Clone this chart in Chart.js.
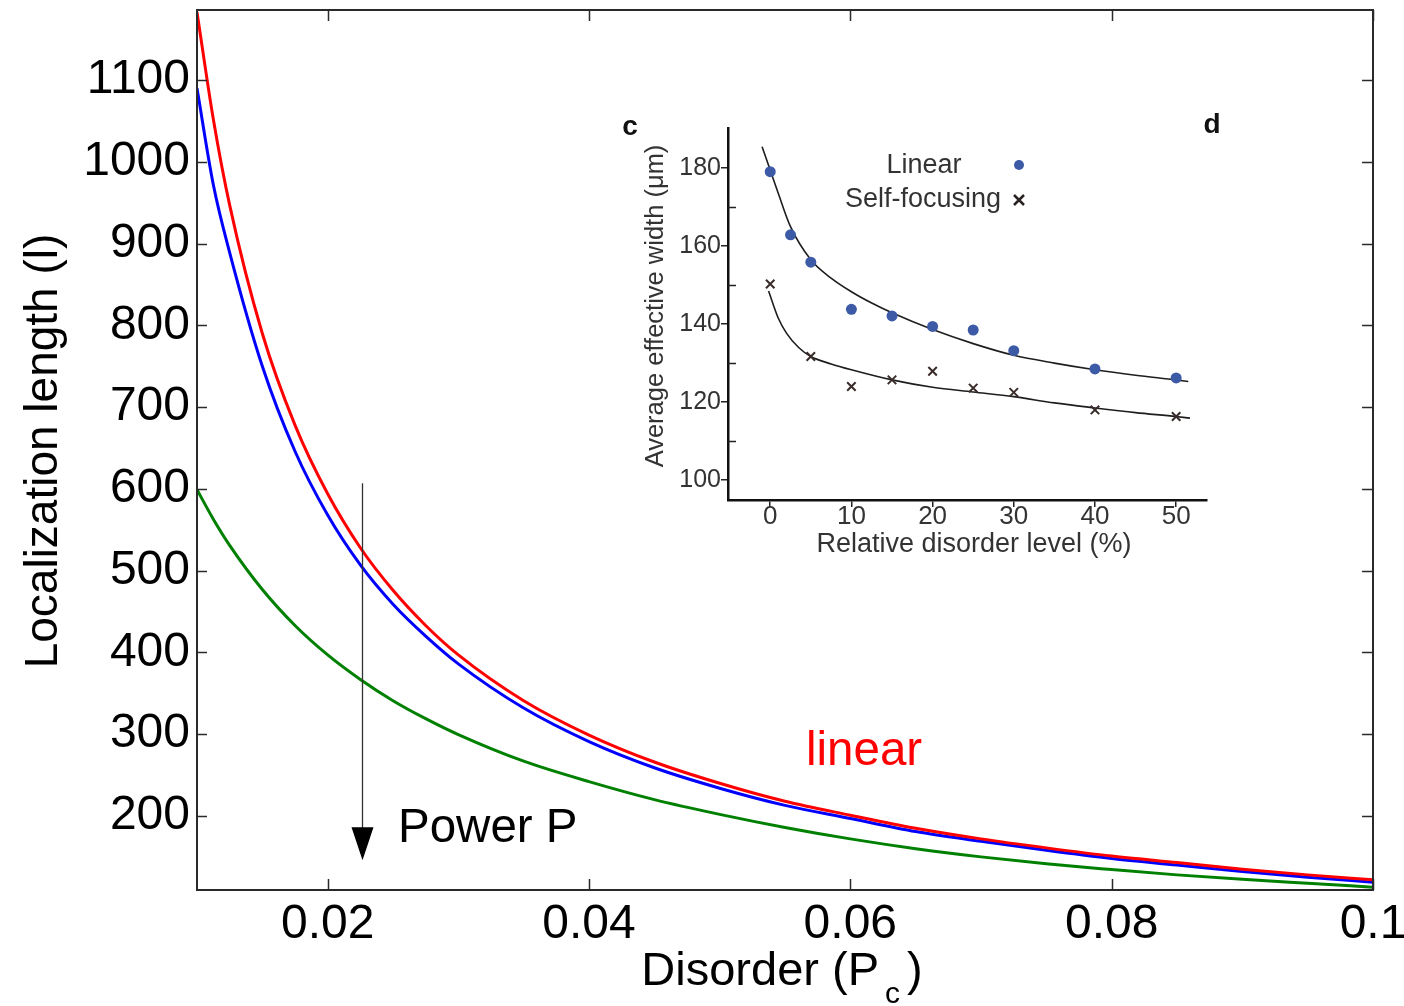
<!DOCTYPE html>
<html>
<head>
<meta charset="utf-8">
<script src="https://cdn.jsdelivr.net/npm/chart.js@4.4.1/dist/chart.umd.min.js"></script>
<style>
  html, body { margin: 0; padding: 0; background: #ffffff; }
  #wrap { position: relative; width: 1404px; height: 1006px; overflow: hidden; }
  #main { position: absolute; left: 0; top: 0; }
  #inset { position: absolute; left: 600px; top: 100px; filter: blur(0.6px); }
</style>
</head>
<body>
<div id="wrap">
  <canvas id="main" width="1404" height="1006"></canvas>
  <canvas id="inset" width="640" height="470"></canvas>
</div>
<script>
// ---- Main plot: localization length versus disorder ----
const disorder = [0.010, 0.01125, 0.0125, 0.015, 0.0175, 0.020, 0.0225, 0.025, 0.0275, 0.030,
                  0.035, 0.040, 0.045, 0.050, 0.055, 0.060, 0.065, 0.070, 0.075, 0.080,
                  0.085, 0.090, 0.095, 0.100];
const lengthLinear = [1183, 1052, 947, 790, 678, 594, 528, 476, 433, 397,
                      341, 299, 266, 240, 218, 201, 185, 172, 161, 151,
                      143, 135, 128, 122];
const lengthMidPower = [1090, 972, 889, 750, 646, 568, 507, 459, 420, 386,
                        332, 291, 259, 234, 213, 197, 181, 169, 158, 148,
                        140, 132, 125, 119];
const lengthHighPower = [599, 563, 531, 477, 433, 397, 367, 341, 319, 299.5,
                         267, 242, 220, 202, 186, 172, 160, 150, 141.5, 134.5,
                         128, 122.5, 117.7, 113];
const xTicks = [0.02, 0.04, 0.06, 0.08, 0.1];
const xTickLabels = ['0.02', '0.04', '0.06', '0.08', '0.1'];
const yTicks = [200, 300, 400, 500, 600, 700, 800, 900, 1000, 1100];
const yTickLabels = ['200', '300', '400', '500', '600', '700', '800', '900', '1000', '1100'];
const xRange = [0.01, 0.1];
const yRange = [109.5, 1185.6];

// arrow marking increasing power
const arrowX = 0.02264;
const arrowFrom = 607;
const arrowTo = 146;

// ---- Inset: average effective width versus relative disorder ----
const insetLevelLinear = [0, 2.5, 5, 10, 15, 20, 25, 30, 40, 50];
const insetWidthLinear = [179.1, 162.9, 155.9, 143.8, 142.1, 139.4, 138.5, 133.2, 128.5, 126.2];
const insetLevelSelf = [0, 5, 10, 15, 20, 25, 30, 40, 50];
const insetWidthSelf = [150.3, 131.7, 124.0, 125.7, 127.9, 123.6, 122.5, 118.0, 116.3];
const fitLevelLinear = [-1, 0, 1, 2.5, 5, 7.5, 10, 12.5, 15, 20, 25, 30, 35, 40, 45, 50, 51.5];
const fitWidthLinear = [185.5, 179.5, 173.5, 165.0, 156.5, 151.8, 148.3, 145.4, 142.9, 138.6, 135.0, 132.0, 130.0, 128.3, 126.9, 125.7, 125.3];
const fitLevelSelf = [-0.2, 1, 2, 3.5, 5, 7.5, 10, 15, 20, 25, 30, 35, 40, 45, 50, 51.7];
const fitWidthSelf = [148.5, 141.5, 137.7, 134.0, 131.7, 129.8, 128.3, 125.7, 123.8, 122.6, 121.4, 119.8, 118.5, 117.3, 116.3, 115.9];
const insetXTicks = [0, 10, 20, 30, 40, 50];
const insetYTicks = [100, 120, 140, 160, 180];
const insetYMinorTicks = [110, 130, 150, 170];
const insetXRange = [-5.2, 53.8];
const insetYRange = [94.9, 190.3];

const FONT = "'Liberation Sans', Arial, Helvetica, sans-serif";

function pairs(xs, ys) { return xs.map((x, i) => ({ x: x, y: ys[i] })); }

// frame, inward ticks, titles and annotations of the main plot
const mainDecor = {
  id: 'mainDecor',
  afterDraw(chart) {
    const ctx = chart.ctx;
    const a = chart.chartArea;
    const xs = chart.scales.x, ys = chart.scales.y;
    ctx.save();
    ctx.strokeStyle = '#2a2a2a';
    ctx.lineWidth = 2;
    ctx.strokeRect(a.left, a.top, a.right - a.left, a.bottom - a.top);
    ctx.lineWidth = 1.5;
    ctx.beginPath();
    xTicks.forEach(v => {
      const px = Math.round(xs.getPixelForValue(v)) + 0.5;
      ctx.moveTo(px, a.bottom); ctx.lineTo(px, a.bottom - 11);
      ctx.moveTo(px, a.top); ctx.lineTo(px, a.top + 11);
    });
    yTicks.forEach(v => {
      const py = Math.round(ys.getPixelForValue(v)) + 0.5;
      ctx.moveTo(a.left, py); ctx.lineTo(a.left + 10, py);
      ctx.moveTo(a.right, py); ctx.lineTo(a.right - 11, py);
    });
    ctx.stroke();

    // arrow
    const ax = Math.round(xs.getPixelForValue(arrowX)) + 0.5;
    const ay0 = ys.getPixelForValue(arrowFrom);
    const ay1 = ys.getPixelForValue(arrowTo);
    ctx.strokeStyle = '#333333';
    ctx.lineWidth = 1.3;
    ctx.beginPath();
    ctx.moveTo(ax, ay0); ctx.lineTo(ax, ay1 - 30);
    ctx.stroke();
    ctx.fillStyle = '#000000';
    ctx.beginPath();
    ctx.moveTo(ax - 11, ay1 - 33);
    ctx.lineTo(ax + 11, ay1 - 33);
    ctx.lineTo(ax, ay1);
    ctx.closePath();
    ctx.fill();

    // annotations
    ctx.font = '47.5px ' + FONT;
    ctx.textBaseline = 'alphabetic';
    ctx.textAlign = 'left';
    ctx.fillStyle = '#000000';
    ctx.fillText('Power P', 398, 842);
    ctx.fillStyle = '#ff0000';
    ctx.fillText('linear', 806, 765);

    // x title with subscript
    ctx.fillStyle = '#000000';
    const t1 = 'Disorder (P', t2 = 'c', t3 = ')';
    ctx.font = '47px ' + FONT;
    const w1 = ctx.measureText(t1).width, w3 = ctx.measureText(t3).width;
    ctx.font = '30px ' + FONT;
    const w2 = ctx.measureText(t2).width;
    const total = w1 + 6 + w2 + 7 + w3;
    let x0 = (a.left + a.right) / 2 - total / 2 - 3;
    ctx.font = '47px ' + FONT;
    ctx.fillText(t1, x0, 985);
    ctx.font = '30px ' + FONT;
    ctx.fillText(t2, x0 + w1 + 6, 1003);
    ctx.font = '47px ' + FONT;
    ctx.fillText(t3, x0 + w1 + 6 + w2 + 7, 985);

    // y title
    ctx.font = '46px ' + FONT;
    ctx.save();
    ctx.translate(57, (a.top + a.bottom) / 2 + 1);
    ctx.rotate(-Math.PI / 2);
    ctx.textAlign = 'center';
    ctx.fillText('Localization length (l)', 0, 0);
    ctx.restore();
    ctx.restore();
  }
};

new Chart(document.getElementById('main'), {
  type: 'line',
  data: {
    datasets: [
      { data: pairs(disorder, lengthLinear), borderColor: '#ff0000' },
      { data: pairs(disorder, lengthMidPower), borderColor: '#0000ff' },
      { data: pairs(disorder, lengthHighPower), borderColor: '#008000' }
    ].map(d => Object.assign(d, {
      borderWidth: 3, pointRadius: 0, fill: false, cubicInterpolationMode: 'monotone'
    }))
  },
  options: {
    responsive: false,
    animation: false,
    devicePixelRatio: 1,
    layout: { padding: { left: 0, top: 10, right: 31, bottom: 0 } },
    plugins: { legend: { display: false }, tooltip: { enabled: false } },
    scales: {
      x: {
        type: 'linear', min: xRange[0], max: xRange[1],
        grid: { display: false, drawTicks: false }, border: { display: false },
        afterBuildTicks: s => { s.ticks = xTicks.map(v => ({ value: v })); },
        afterFit: s => { s.height = 116; s.paddingLeft = 0; s.paddingRight = 0; },
        ticks: {
          autoSkip: false, maxRotation: 0, padding: 6, color: '#000000',
          font: { family: FONT, size: 48 },
          callback: (v, i) => xTickLabels[i]
        }
      },
      y: {
        type: 'linear', min: yRange[0], max: yRange[1],
        grid: { display: false, drawTicks: false }, border: { display: false },
        afterBuildTicks: s => { s.ticks = yTicks.map(v => ({ value: v })); },
        afterFit: s => { s.width = 197; s.paddingTop = 0; s.paddingBottom = 0; },
        ticks: {
          autoSkip: false, padding: 7, color: '#000000',
          font: { family: FONT, size: 48 },
          callback: (v, i) => yTickLabels[i]
        }
      }
    }
  },
  plugins: [mainDecor]
});

// inset labels, legend and minor ticks
const insetDecor = {
  id: 'insetDecor',
  afterDraw(chart) {
    const ctx = chart.ctx;
    const a = chart.chartArea;
    const ys = chart.scales.y;
    ctx.save();
    ctx.strokeStyle = '#222222';
    ctx.lineWidth = 1.5;
    ctx.beginPath();
    insetYMinorTicks.forEach(v => {
      const py = Math.round(ys.getPixelForValue(v)) + 0.5;
      ctx.moveTo(a.left, py); ctx.lineTo(a.left + 8, py);
    });
    ctx.stroke();

    ctx.fillStyle = '#333333';
    ctx.font = '27px ' + FONT;
    ctx.textAlign = 'center';
    ctx.textBaseline = 'middle';
    ctx.fillText('Relative disorder level (%)', 374, 445);
    ctx.save();
    ctx.translate(56, 206);
    ctx.rotate(-Math.PI / 2);
    ctx.font = '25.5px ' + FONT;
    ctx.fillText('Average effective width (\u03bcm)', 0, 0);
    ctx.restore();

    ctx.font = '27px ' + FONT;
    ctx.fillText('Linear', 324, 66);
    ctx.fillText('Self-focusing', 323, 100);
    ctx.fillStyle = '#3c5aa6';
    ctx.beginPath();
    ctx.arc(419, 65, 5, 0, Math.PI * 2);
    ctx.fill();
    ctx.strokeStyle = '#2a2222';
    ctx.lineWidth = 2.5;
    ctx.beginPath();
    ctx.moveTo(414, 95); ctx.lineTo(424, 105);
    ctx.moveTo(424, 95); ctx.lineTo(414, 105);
    ctx.stroke();

    ctx.fillStyle = '#111111';
    ctx.font = 'bold 28px ' + FONT;
    ctx.fillText('c', 30, 27);
    ctx.fillText('d', 612, 25);
    ctx.restore();
  }
};

new Chart(document.getElementById('inset'), {
  type: 'line',
  data: {
    datasets: [
      { data: pairs(insetLevelLinear, insetWidthLinear), showLine: false, pointRadius: 5.5,
        pointStyle: 'circle', pointBackgroundColor: '#3c5aa6', pointBorderWidth: 0, borderColor: '#3c5aa6' },
      { data: pairs(insetLevelSelf, insetWidthSelf), showLine: false, pointRadius: 6,
        pointStyle: 'crossRot', pointBorderColor: '#3a2b2b', pointBorderWidth: 2, borderColor: '#3a2b2b' },
      { data: pairs(fitLevelLinear, fitWidthLinear), borderColor: '#1e1e1e', borderWidth: 1.6,
        pointRadius: 0, cubicInterpolationMode: 'monotone' },
      { data: pairs(fitLevelSelf, fitWidthSelf), borderColor: '#1e1e1e', borderWidth: 1.6,
        pointRadius: 0, cubicInterpolationMode: 'monotone' }
    ]
  },
  options: {
    responsive: false,
    animation: false,
    devicePixelRatio: 1,
    layout: { padding: { left: 0, top: 28, right: 33, bottom: 0 } },
    plugins: { legend: { display: false }, tooltip: { enabled: false } },
    scales: {
      x: {
        type: 'linear', min: insetXRange[0], max: insetXRange[1],
        grid: { display: true, drawOnChartArea: false, drawTicks: true, tickLength: 7, color: '#222222', lineWidth: 1.5 },
        border: { display: true, color: '#111111', width: 2.5 },
        afterBuildTicks: s => { s.ticks = insetXTicks.map(v => ({ value: v })); },
        afterFit: s => { s.height = 70; s.paddingLeft = 0; s.paddingRight = 0; },
        ticks: { autoSkip: false, maxRotation: 0, padding: -3, color: '#333333',
                 font: { family: FONT, size: 26, lineHeight: 1 }, callback: v => String(v) }
      },
      y: {
        type: 'linear', min: insetYRange[0], max: insetYRange[1],
        grid: { display: true, drawOnChartArea: false, drawTicks: true, tickLength: 7, color: '#222222', lineWidth: 1.5 },
        border: { display: true, color: '#111111', width: 2.5 },
        afterBuildTicks: s => { s.ticks = insetYTicks.map(v => ({ value: v })); },
        afterFit: s => { s.width = 128; s.paddingTop = 0; s.paddingBottom = 0; },
        ticks: { autoSkip: false, padding: 0, color: '#333333',
                 font: { family: FONT, size: 25 }, callback: v => String(v) }
      }
    }
  },
  plugins: [insetDecor]
});
</script>
</body>
</html>
